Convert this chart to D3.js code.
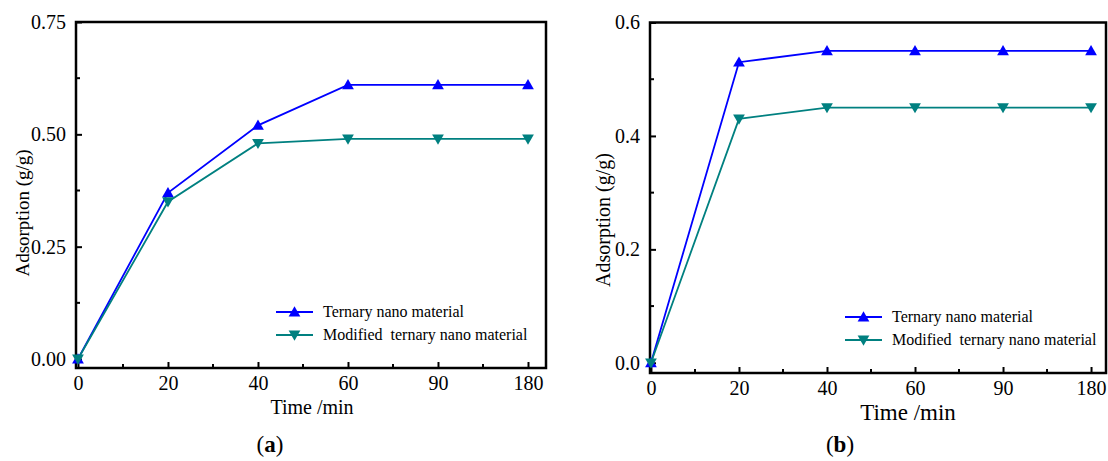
<!DOCTYPE html>
<html><head><meta charset="utf-8">
<script src="https://cdn.jsdelivr.net/npm/d3@7"></script>
<style>
html,body{margin:0;padding:0;background:#fff;}
</style></head>
<body>
<svg id="c" width="1108" height="461" style="font-family:'Liberation Serif','DejaVu Serif',serif"></svg>
<script>
// ---- data ----
const timeLabels = ["0","20","40","60","90","180"];
const ternaryA = [0, 0.37, 0.52, 0.61, 0.61, 0.61];
const modifiedA = [0, 0.35, 0.48, 0.49, 0.49, 0.49];
const ternaryB = [0, 0.53, 0.55, 0.55, 0.55, 0.55];
const modifiedB = [0, 0.43, 0.45, 0.45, 0.45, 0.45];
const yTicksA = [0, 0.25, 0.5, 0.75];
const yTicksB = [0, 0.2, 0.4, 0.6];
const seriesNames = ["Ternary nano material", "Modified\u00a0 ternary nano material"];
const colors = ["#0000ff", "#008080"];

const FONT = "'Liberation Serif','DejaVu Serif',serif";
const svg = d3.select("#c");

function panel(o) {
  const g = svg.append("g");
  const x = d3.scaleLinear().domain(o.xDom).range([o.left, o.right]);
  const y = d3.scaleLinear().domain(o.yDom).range([o.bottom, o.top]);
  const idx = d3.range(timeLabels.length);

  // frame
  g.append("rect").attr("x", o.left).attr("y", o.top)
    .attr("width", o.right - o.left).attr("height", o.bottom - o.top)
    .attr("fill", "none").attr("stroke", "#000").attr("stroke-width", 2.5);

  // x axis ticks (inward)
  const xMinor = d3.range(0.5, timeLabels.length - 0.5, 1);
  const xa = d3.axisBottom(x).tickValues(idx).tickSize(-6).tickFormat(i => timeLabels[i]).tickPadding(12);
  const gx = g.append("g").attr("transform", `translate(0,${o.bottom})`).call(xa)
    .attr("font-family", FONT);
  gx.select(".domain").remove();
  gx.selectAll(".tick line").attr("stroke", "#000").attr("stroke-width", 2);
  gx.selectAll(".tick text").attr("font-size", o.tickFont).attr("fill", "#000")
    .style("font-family", FONT)
    .attr("y", o.xLabelY - o.bottom).attr("dy", 0);
  g.selectAll(".xminor").data(xMinor).enter().append("line")
    .attr("x1", d => x(d)).attr("x2", d => x(d))
    .attr("y1", o.bottom).attr("y2", o.bottom - 4)
    .attr("stroke", "#000").attr("stroke-width", 2);

  // y axis ticks (inward)
  const ya = d3.axisLeft(y).tickValues(o.yTicks).tickSize(-6).tickFormat(d3.format(o.yFmt)).tickPadding(10);
  const gy = g.append("g").attr("transform", `translate(${o.left},0)`).call(ya)
    .attr("font-family", FONT);
  gy.select(".domain").remove();
  gy.selectAll(".tick line").attr("stroke", "#000").attr("stroke-width", 2);
  gy.selectAll(".tick text").attr("font-size", o.tickFont).attr("fill", "#000")
    .style("font-family", FONT).attr("x", -10);
  const step = o.yTicks[1] - o.yTicks[0];
  const yMinor = o.yTicks.slice(0, -1).map(v => v + step / 2);
  g.selectAll(".yminor").data(yMinor).enter().append("line")
    .attr("x1", o.left).attr("x2", o.left + 4)
    .attr("y1", d => y(d)).attr("y2", d => y(d))
    .attr("stroke", "#000").attr("stroke-width", 2);

  // series
  const line = d3.line().x((d, i) => x(i)).y(d => y(d));
  const tri = d3.symbol().type(d3.symbolTriangle).size(60);
  [o.s1, o.s2].forEach((s, k) => {
    g.append("path").datum(s).attr("d", line).attr("fill", "none")
      .attr("stroke", colors[k]).attr("stroke-width", 1.8);
    g.selectAll(".m" + k).data(s).enter().append("path")
      .attr("d", tri)
      .attr("transform", (d, i) => `translate(${x(i)},${y(d) + (k ? -1 : 1)}) rotate(${k ? 180 : 0})`)
      .attr("fill", colors[k]);
  });

  // legend
  seriesNames.forEach((n, k) => {
    const ly = o.legY + k * o.legGap;
    g.append("line").attr("x1", o.legX).attr("x2", o.legX + 37)
      .attr("y1", ly).attr("y2", ly).attr("stroke", colors[k]).attr("stroke-width", 1.8);
    g.append("path").attr("d", tri)
      .attr("transform", `translate(${o.legX + 18.5},${ly + (k ? -1 : 1)}) rotate(${k ? 180 : 0})`)
      .attr("fill", colors[k]);
    g.append("text").attr("x", o.legX + 47).attr("y", ly + 5)
      .style("font-family", FONT)
      .attr("font-size", o.legFont).text(n);
  });

  // axis titles
  g.append("text").attr("transform", `translate(${o.yTitleX},${o.yTitleY}) rotate(-90)`)
    .style("font-family", FONT)
    .attr("text-anchor", "middle").attr("font-size", o.yTitleFont).text("Adsorption (g/g)");
  g.append("text").attr("x", o.xTitleX).attr("y", o.xTitleY)
    .style("font-family", FONT)
    .attr("text-anchor", "middle").attr("font-size", o.xTitleFont).text("Time /min");

  // panel label
  const pl = g.append("text").attr("x", o.capX).attr("y", 452)
    .style("font-family", FONT)
    .attr("text-anchor", "middle").attr("font-size", 23);
  pl.append("tspan").text("(");
  pl.append("tspan").attr("font-weight", "bold").text(o.cap);
  pl.append("tspan").text(")");
}

panel({
  left: 76, right: 546, top: 22, bottom: 368,
  xDom: [-0.022, 5.2], yDom: [-0.02, 0.75],
  s1: ternaryA, s2: modifiedA, yTicks: yTicksA, yFmt: ".2f",
  tickFont: 20, xLabelY: 390,
  legX: 276, legY: 312, legGap: 23, legFont: 16,
  yTitleX: 29, yTitleY: 213, yTitleFont: 19,
  xTitleX: 312, xTitleY: 414, xTitleFont: 20,
  capX: 270, cap: "a"
});

panel({
  left: 650, right: 1106, top: 22.5, bottom: 373,
  xDom: [-0.011, 5.17], yDom: [-0.018, 0.6],
  s1: ternaryB, s2: modifiedB, yTicks: yTicksB, yFmt: ".1f",
  tickFont: 20, xLabelY: 395,
  legX: 845, legY: 317, legGap: 23, legFont: 16,
  yTitleX: 610, yTitleY: 220, yTitleFont: 20,
  xTitleX: 908, xTitleY: 420, xTitleFont: 23,
  capX: 840, cap: "b"
});
</script>
</body></html>
